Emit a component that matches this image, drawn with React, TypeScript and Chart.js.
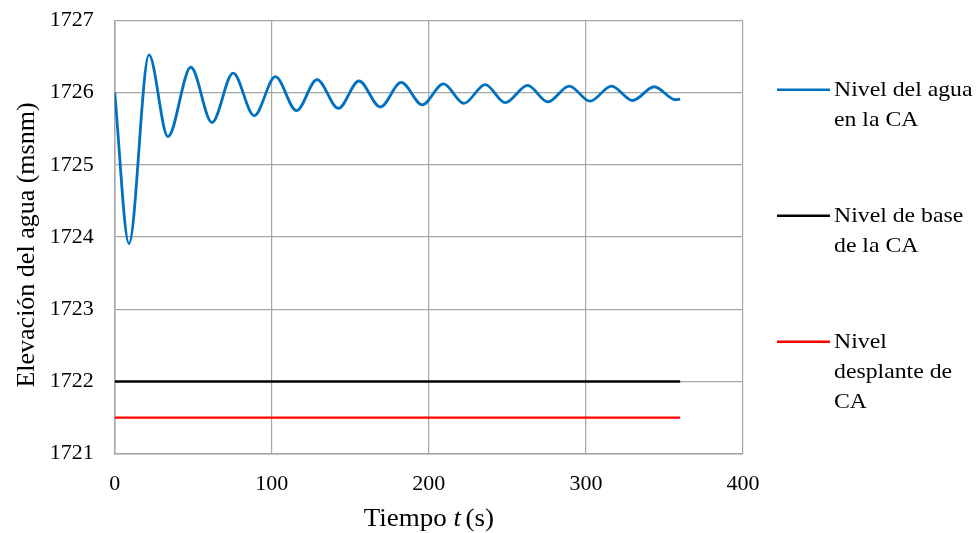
import React, { useEffect, useRef } from "react";
import { Chart, registerables } from "chart.js";

Chart.register(...registerables);

// ---- Data ----
const waterTime = [
  0, 9.1, 21.8, 33.9, 48.5, 61.9, 75.4, 88.8, 102.3, 115.7, 128.8, 142.4, 155.5,
  169.1, 182.4, 195.8, 209.3, 222.3, 235.9, 248.6, 262.9, 275.7, 289.4, 302.6,
  316.3, 329.7, 343.5, 357, 360,
];
const waterLevel = [
  1726.0, 1723.91, 1726.52, 1725.39, 1726.35, 1725.585, 1726.27, 1725.68,
  1726.22, 1725.75, 1726.18, 1725.78, 1726.16, 1725.8, 1726.14, 1725.83,
  1726.12, 1725.85, 1726.11, 1725.86, 1726.1, 1725.87, 1726.09, 1725.88,
  1726.09, 1725.89, 1726.08, 1725.9, 1725.91,
];
const flatTime = [0, 360];
const baseLevel = [1722, 1722];
const footingLevel = [1721.5, 1721.5];

const xMin = 0;
const xMax = 400;
const xStep = 100;
const yMin = 1721;
const yMax = 1727;
const yStep = 1;

const seriesLabels = ["Nivel del agua en la CA", "Nivel de base de la CA", "Nivel desplante de CA"];
const legendLines = [
  ["Nivel del agua", "en la CA"],
  ["Nivel de base", "de la CA"],
  ["Nivel", "desplante de", "CA"],
];
const seriesColors = ["#0070C0", "#000000", "#FF0000"];

const yTitle = "Elevación del agua (msnm)";
const xTitleParts = ["Tiempo ", "t", "(s)"];

const SERIF = '"Liberation Serif", "Times New Roman", serif';

const toPoints = (xs: number[], ys: number[]) => xs.map((x, i) => ({ x, y: ys[i] }));

const decorPlugin = {
  id: "decor",
  afterDraw(chart: any) {
    const ctx: CanvasRenderingContext2D = chart.ctx;
    const a = chart.chartArea;
    ctx.save();
    ctx.fillStyle = "#000";

    // Y axis title
    ctx.save();
    ctx.translate(27, (a.top + a.bottom) / 2 + 8);
    ctx.rotate(-Math.PI / 2);
    ctx.font = `26px ${SERIF}`;
    ctx.textAlign = "center";
    ctx.textBaseline = "middle";
    ctx.fillText(yTitle, 0, 0);
    ctx.restore();

    // X axis title with italic t
    const normal = `25px ${SERIF}`;
    const italic = `italic 25px ${SERIF}`;
    const fonts = [normal, italic, normal];
    const widths = xTitleParts.map((p, i) => {
      ctx.font = fonts[i];
      return ctx.measureText(p).width;
    });
    const gap = 4;
    const sx = 1.08;
    const total = (widths.reduce((s, w) => s + w, 0) + gap) * sx;
    ctx.save();
    ctx.translate((a.left + a.right) / 2 - total / 2, 519);
    ctx.scale(sx, 1);
    let x = 0;
    ctx.textAlign = "left";
    ctx.textBaseline = "middle";
    xTitleParts.forEach((p, i) => {
      ctx.font = fonts[i];
      ctx.fillText(p, x, 0);
      x += widths[i] + (i === 1 ? gap : 0);
    });
    ctx.restore();

    // Legend
    const lx0 = a.right + 34;
    const lx1 = a.right + 87;
    const tx = a.right + 91;
    const ys = [a.top + 69.5, a.top + 195.5, a.top + 321.5];
    legendLines.forEach((lines, i) => {
      ctx.strokeStyle = seriesColors[i];
      ctx.lineWidth = 2.5;
      ctx.beginPath();
      ctx.moveTo(lx0, ys[i]);
      ctx.lineTo(lx1, ys[i]);
      ctx.stroke();
      ctx.save();
      ctx.translate(tx, ys[i]);
      ctx.scale(1.08, 1);
      ctx.font = `22px ${SERIF}`;
      ctx.textBaseline = "middle";
      ctx.textAlign = "left";
      lines.forEach((t, j) => {
        ctx.fillText(t, 0, j * 30);
      });
      ctx.restore();
    });
    ctx.restore();
  },
};

export default function App() {
  const ref = useRef<HTMLCanvasElement | null>(null);

  useEffect(() => {
    if (!ref.current) return;
    const chart = new Chart(ref.current, {
      type: "line",
      data: {
        datasets: [
          {
            label: seriesLabels[0],
            data: toPoints(waterTime, waterLevel),
            borderColor: seriesColors[0],
            borderWidth: 2.8,
            pointRadius: 0,
            cubicInterpolationMode: "monotone",
            fill: false,
          },
          {
            label: seriesLabels[1],
            data: toPoints(flatTime, baseLevel),
            borderColor: seriesColors[1],
            borderWidth: 2.4,
            pointRadius: 0,
            fill: false,
          },
          {
            label: seriesLabels[2],
            data: toPoints(flatTime, footingLevel),
            borderColor: seriesColors[2],
            borderWidth: 2.4,
            pointRadius: 0,
            fill: false,
          },
        ],
      },
      options: {
        animation: false,
        responsive: false,
        maintainAspectRatio: false,
        layout: { padding: { top: 20.3, right: 233, left: 0, bottom: 0 } },
        plugins: {
          legend: { display: false },
          tooltip: { enabled: false },
          title: { display: false },
        },
        scales: {
          x: {
            type: "linear",
            min: xMin,
            max: xMax,
            ticks: {
              stepSize: xStep,
              color: "#000",
              font: { family: SERIF, size: 22 },
              padding: 17,
              maxRotation: 0,
              callback: (v: any) => String(v),
            },
            grid: { color: "#a6a6a6", lineWidth: 1.2, drawTicks: false },
            border: { color: "#a6a6a6", width: 1.5 },
            afterFit: (s: any) => {
              s.height = 79.3;
              s.paddingLeft = 0;
              s.paddingRight = 0;
            },
          },
          y: {
            type: "linear",
            min: yMin,
            max: yMax,
            ticks: {
              stepSize: yStep,
              color: "#000",
              font: { family: SERIF, size: 22 },
              padding: 21,
              callback: (v: any) => String(v),
            },
            grid: { color: "#a6a6a6", lineWidth: 1.2, drawTicks: false },
            border: { color: "#a6a6a6", width: 1.5 },
            afterFit: (s: any) => {
              s.width = 114.7;
              s.paddingTop = 0;
              s.paddingBottom = 0;
            },
          },
        },
      },
      plugins: [decorPlugin],
    } as any);
    return () => chart.destroy();
  }, []);

  return (
    <div style={{ position: "fixed", left: 0, top: 0, width: 976, height: 533, background: "#fff" }}>
      <canvas ref={ref} width={976} height={533} style={{ width: 976, height: 533, display: "block" }} />
    </div>
  );
}
